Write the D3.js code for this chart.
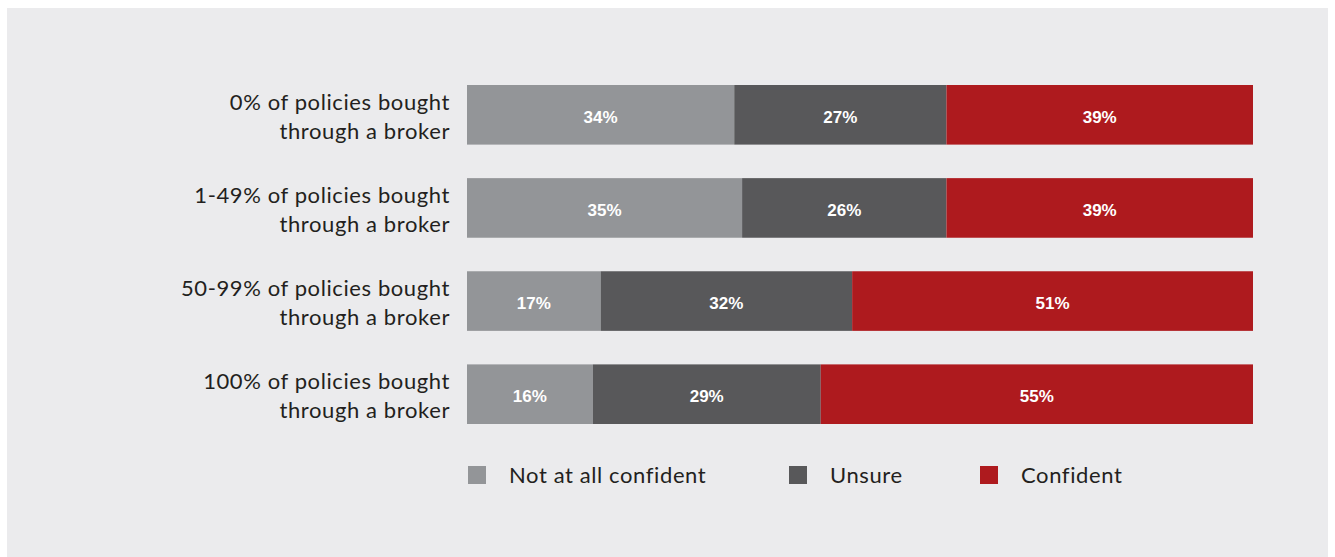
<!DOCTYPE html>
<html>
<head>
<meta charset="utf-8">
<script src="https://cdn.jsdelivr.net/npm/d3@7"></script>
<style>
  html, body { margin: 0; padding: 0; background: #ffffff; }
  svg { display: block; }
</style>
</head>
<body>
<svg id="chart" width="1335" height="557"></svg>
<script>
// Survey groups (rows), top to bottom
const groups = [
  ["0% of policies bought", "through a broker"],
  ["1-49% of policies bought", "through a broker"],
  ["50-99% of policies bought", "through a broker"],
  ["100% of policies bought", "through a broker"]
];
const groupKeys = ["0%", "1-49%", "50-99%", "100%"];

// Response categories and their shares (%) per group
const seriesNames = ["Not at all confident", "Unsure", "Confident"];
const notConfident = [34, 35, 17, 16];
const unsure       = [27, 26, 32, 29];
const confident    = [39, 39, 51, 55];
const seriesColors = ["#939598", "#58585a", "#ae1a1e"];

const rows = groupKeys.map((k, i) => ({
  key: k,
  "Not at all confident": notConfident[i],
  "Unsure": unsure[i],
  "Confident": confident[i]
}));

const svg = d3.select("#chart");

// Panel background
svg.append("rect")
  .attr("x", 7).attr("y", 8)
  .attr("width", 1321).attr("height", 549)
  .attr("fill", "#ebebed");

const x = d3.scaleLinear().domain([0, 100]).range([467, 1253]);
const y = d3.scaleBand().domain(groupKeys).range([85, 424]).paddingInner(0.36).paddingOuter(0);
const color = d3.scaleOrdinal().domain(seriesNames).range(seriesColors);

const stacked = d3.stack().keys(seriesNames)(rows);

const layers = svg.append("g").selectAll("g")
  .data(stacked)
  .join("g")
  .attr("fill", d => color(d.key));

layers.selectAll("rect")
  .data(d => d)
  .join("rect")
  .attr("x", d => x(d[0]))
  .attr("y", d => y(d.data.key))
  .attr("width", d => x(d[1]) - x(d[0]))
  .attr("height", y.bandwidth());

// Value labels inside segments
layers.selectAll("text")
  .data(d => d)
  .join("text")
  .attr("x", d => (x(d[0]) + x(d[1])) / 2)
  .attr("y", d => y(d.data.key) + y.bandwidth() / 2 + 2)
  .attr("dy", "0.36em")
  .attr("text-anchor", "middle")
  .attr("fill", "#ffffff")
  .style("font-family", "'Liberation Sans', Arial, sans-serif")
  .style("font-weight", "bold")
  .style("font-size", "17px")
  .text(d => (d[1] - d[0]) + "%");

const labelFont = {
  family: "Lato, 'Noto Sans', sans-serif",
  weight: 400,
  size: "22px",
  spacing: "0.6px"
};

// Category labels (two lines, right aligned)
const labelG = svg.append("g");
groupKeys.forEach((k, i) => {
  const cy = y(k) + y.bandwidth() / 2;
  const t = labelG.append("text")
    .attr("x", 450)
    .attr("text-anchor", "end")
    .attr("fill", "#231f20")
    .style("font-family", labelFont.family)
    .style("font-weight", labelFont.weight)
    .style("font-size", labelFont.size)
    .style("letter-spacing", labelFont.spacing);
  t.append("tspan").attr("x", 450).attr("y", cy - 5).text(groups[i][0]);
  t.append("tspan").attr("x", 450).attr("y", cy + 24).text(groups[i][1]);
});

// Legend
const legendX = [468, 789, 980];
const legend = svg.append("g").selectAll("g")
  .data(seriesNames)
  .join("g")
  .attr("transform", (d, i) => `translate(${legendX[i]},466)`);
legend.append("rect")
  .attr("width", 18).attr("height", 18)
  .attr("fill", d => color(d));
legend.append("text")
  .attr("x", 41).attr("y", 9).attr("dy", "0.36em")
  .attr("fill", "#231f20")
  .style("font-family", labelFont.family)
  .style("font-weight", labelFont.weight)
  .style("font-size", labelFont.size)
  .style("letter-spacing", labelFont.spacing)
  .text(d => d);
</script>
</body>
</html>
